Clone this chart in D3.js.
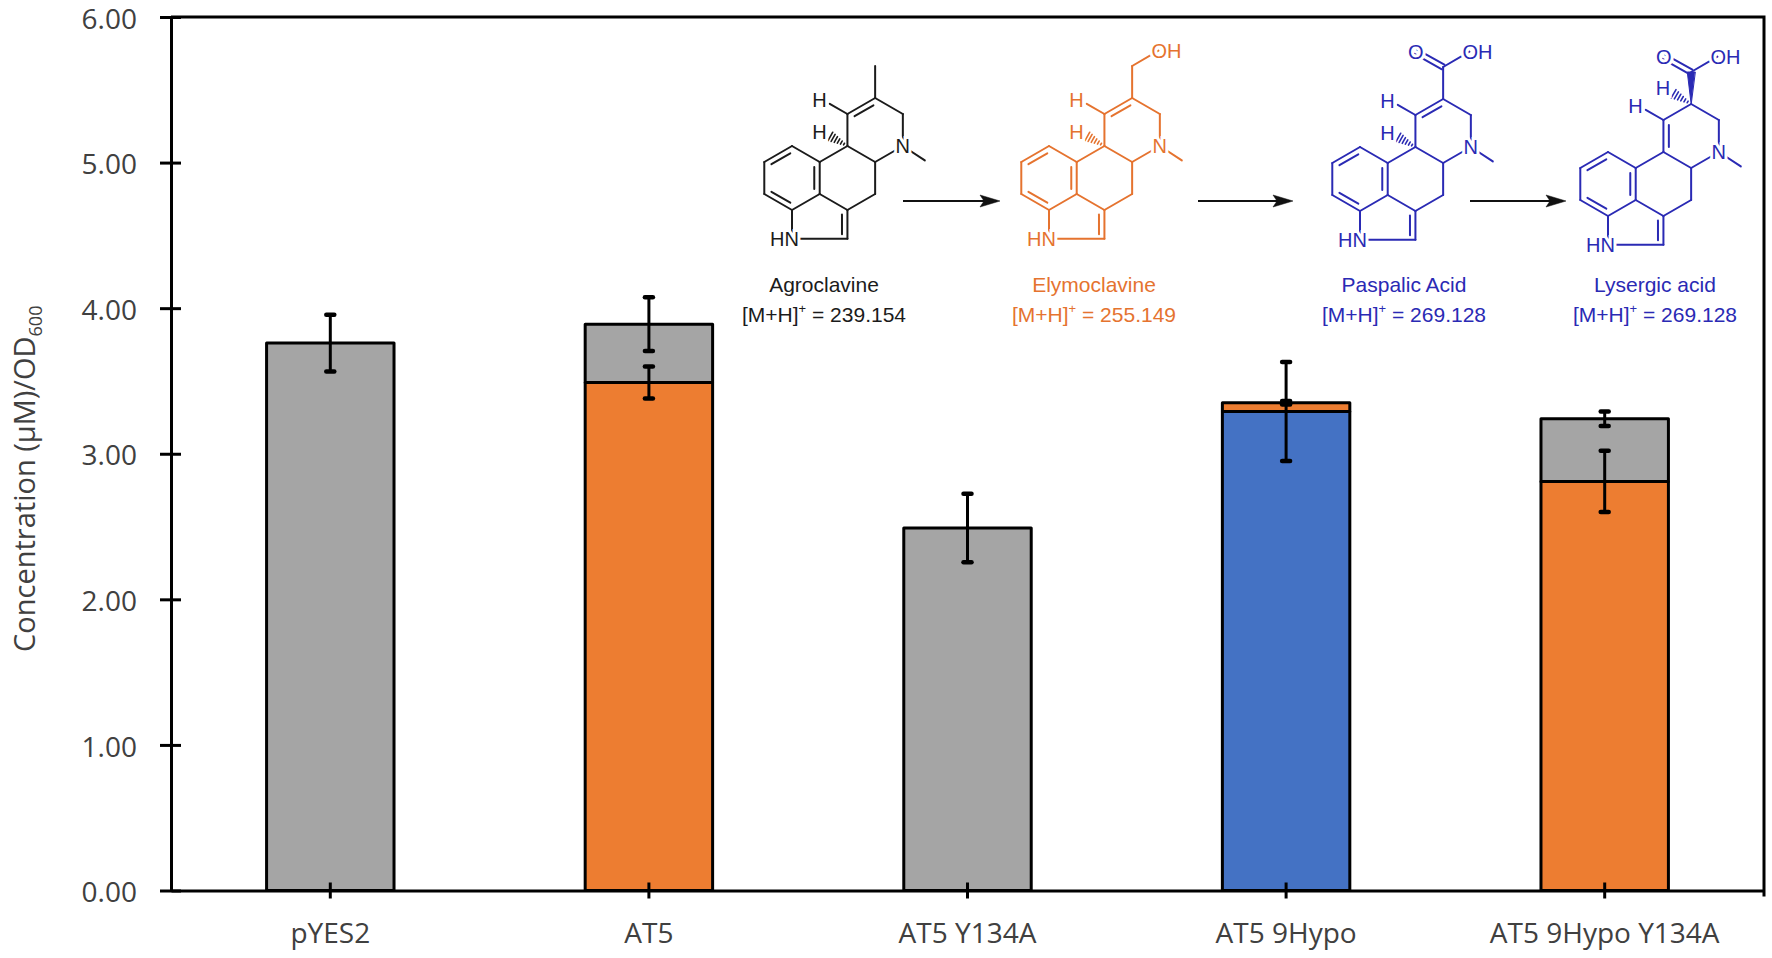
<!DOCTYPE html>
<html>
<head>
<meta charset="utf-8">
<script src="https://cdn.jsdelivr.net/npm/d3@7"></script>
<style>
  body { margin: 0; background: #fff; }
  svg { display: block; }
</style>
</head>
<body>
<svg id="chart" width="1772" height="958"></svg>
<script>
// chart data
const categories = ["pYES2", "AT5", "AT5 Y134A", "AT5 9Hypo", "AT5 9Hypo Y134A"];
const paspalic = [0, 0, 0, 3.29, 0];
const elymoclavine = [0, 3.49, 0, 0.06, 2.81];
const agroclavine = [3.76, 0.40, 2.49, 0, 0.43];
const paspalicErr = [0, 0, 0, 0.34, 0];
const elymoclavineErr = [0, 0.11, 0, 0.012, 0.21];
const agroclavineErr = [0.195, 0.185, 0.235, 0, 0.05];
const yTicks = [0, 1, 2, 3, 4, 5, 6];

// pathway inset
const compounds = ["Agroclavine", "Elymoclavine", "Paspalic Acid", "Lysergic acid"];
const masses = ["239.154", "255.149", "269.128", "269.128"];

const W = 1772, H = 958;
const margin = {top: 17, right: 8, bottom: 67.5, left: 171};
const svg = d3.select("#chart");

const x = d3.scaleBand()
  .domain(categories)
  .range([margin.left, W - margin.right])
  .paddingInner(0.6)
  .paddingOuter(0.3);
const y = d3.scaleLinear().domain([0, 6]).range([H - margin.bottom, margin.top]);

const keys = ["paspalic", "elymoclavine", "agroclavine"];
const colors = {paspalic: "#4472C4", elymoclavine: "#ED7D31", agroclavine: "#A5A5A5"};
const errs = {paspalic: paspalicErr, elymoclavine: elymoclavineErr, agroclavine: agroclavineErr};
const table = categories.map((c, i) => ({
  category: c, idx: i,
  paspalic: paspalic[i], elymoclavine: elymoclavine[i], agroclavine: agroclavine[i]
}));
const series = d3.stack().keys(keys)(table);

// bars
svg.append("g").selectAll("g").data(series).join("g")
  .attr("fill", d => colors[d.key])
  .selectAll("rect").data(d => d.filter(s => s[1] - s[0] > 0)).join("rect")
  .attr("x", d => x(d.data.category))
  .attr("width", x.bandwidth())
  .attr("y", d => y(d[1]))
  .attr("height", d => y(d[0]) - y(d[1]))
  .attr("stroke", "#000")
  .attr("stroke-width", 3)
  .attr("stroke-linejoin", "round");

// error bars at top of each segment
const errData = [];
series.forEach(s => s.forEach(d => {
  const e = errs[s.key][d.data.idx];
  if (d[1] - d[0] > 0 && e > 0) errData.push({cat: d.data.category, v: d[1], e});
}));
const eg = svg.append("g").attr("stroke", "#000");
const cx = d => x(d.cat) + x.bandwidth() / 2;
eg.selectAll(".stem").data(errData).join("line").attr("class", "stem")
  .attr("x1", cx).attr("x2", cx)
  .attr("y1", d => y(d.v + d.e)).attr("y2", d => y(d.v - d.e))
  .attr("stroke-width", 3);
["+", "-"].forEach(sgn => {
  eg.selectAll(".cap" + (sgn === "+" ? "u" : "d")).data(errData).join("line")
    .attr("x1", d => cx(d) - 4).attr("x2", d => cx(d) + 4)
    .attr("y1", d => y(sgn === "+" ? d.v + d.e : d.v - d.e))
    .attr("y2", d => y(sgn === "+" ? d.v + d.e : d.v - d.e))
    .attr("stroke-width", 4.5).attr("stroke-linecap", "round");
});

// axes
const gy = svg.append("g").attr("transform", `translate(${margin.left},0)`)
  .call(d3.axisLeft(y).tickValues(yTicks).tickFormat(d3.format(".2f"))
    .tickSize(10).tickSizeOuter(0).tickPadding(24));
gy.select(".domain").attr("stroke", "#000").attr("stroke-width", 3);
gy.selectAll(".tick line").attr("x1", -11).attr("x2", 10).attr("stroke", "#000").attr("stroke-width", 3);
gy.selectAll("text").attr("font-family", "Open Sans").attr("font-size", 28).attr("fill", "#404040")
  .attr("dy", "0.4em");

const gx = svg.append("g").attr("transform", `translate(0,${H - margin.bottom})`)
  .call(d3.axisBottom(x).tickSize(8).tickSizeOuter(0).tickPadding(25));
gx.select(".domain").attr("stroke", "#000").attr("stroke-width", 3);
gx.selectAll(".tick line").attr("y1", -8).attr("y2", 8).attr("stroke", "#000").attr("stroke-width", 3);
gx.selectAll("text").attr("font-family", "Open Sans").attr("font-size", 28).attr("fill", "#404040");

// frame top / right
svg.append("path")
  .attr("d", `M${margin.left},${margin.top}H${W - margin.right}V${H - margin.bottom + 6}`)
  .attr("fill", "none").attr("stroke", "#000").attr("stroke-width", 3);

// y title
const yt = svg.append("text")
  .attr("transform", `translate(35,${(margin.top + H - margin.bottom) / 2 + 25}) rotate(-90)`)
  .attr("text-anchor", "middle")
  .attr("font-family", "Open Sans").attr("font-size", 29).attr("fill", "#404040");
yt.append("tspan").text("Concentration (μM)/OD");
yt.append("tspan").attr("font-size", 18).attr("dy", 7).text("600");

// ---- reaction scheme ----
const L = 32;
const atoms = {
  A1: [0, -1], A2: [0.866, -0.5], A3: [0.866, 0.5], A4: [0, 1], A5: [-0.866, 0.5], A6: [-0.866, -0.5],
  C3: [1.732, 1], C2: [1.732, 1.9], N1: [0, 1.9],
  C4: [2.598, 0.5], C5: [2.598, -0.5], C10: [1.732, -1], C9: [1.732, -2], C8: [2.598, -2.5],
  C7: [3.464, -2], N6: [3.464, -1], Me6: [4.15, -0.55],
  H9e: [1.18, -2.32], H10e: [1.2, -1.3], H8e: [2.05, -2.82],
  C17: [2.598, -3.5], O1: [1.74, -3.98], O2: [3.42, -3.98]
};
const centers = {ringA: [0, 0], pyr: [0.866, 1.26], ringD: [2.598, -1.5]};
const baseSingles = [["A1","A2"],["A3","A4"],["A5","A6"],["A4","N1"],["N1","C2"],["C3","A3"],
  ["C3","C4"],["C4","C5"],["C5","C10"],["C10","A2"],["C8","C7"],["C7","N6"],["N6","C5"],
  ["N6","Me6"],["C9","H9e"],["C8","C17"]];
const baseDoubles = [["A2","A3","ringA"],["A4","A5","ringA"],["A6","A1","ringA"],["C2","C3","pyr"]];

const layout = [
  {cx: 792, cy: 178, lx: 824, color: "#1b1b1b", kind: "agro"},
  {cx: 1049, cy: 178, lx: 1094, color: "#E5732F", kind: "ely"},
  {cx: 1360, cy: 179, lx: 1404, color: "#2A2AB4", kind: "pasp"},
  {cx: 1608, cy: 184, lx: 1655, color: "#2A2AB4", kind: "lys"}
];

function drawMolecule(m, i) {
  const g = svg.append("g").attr("stroke", m.color).attr("fill", m.color)
    .attr("stroke-width", 2).attr("stroke-linecap", "round");
  const P = k => { const p = Array.isArray(k) ? k : atoms[k]; return [m.cx + p[0] * L, m.cy + p[1] * L]; };
  const line = (a, b, w) => g.append("line").attr("x1", a[0]).attr("y1", a[1]).attr("x2", b[0]).attr("y2", b[1])
    .attr("stroke-width", w || 2);
  const singles = baseSingles.slice();
  const doubles = baseDoubles.slice();
  if (m.kind === "lys") {
    singles.push(["C9", "C8"]);
    doubles.push(["C10", "C9", "ringD"]);
  } else {
    singles.push(["C10", "C9"]);
    doubles.push(["C9", "C8", "ringD"]);
  }
  if (m.kind !== "agro") singles.push(["C17", "O2"]);
  singles.forEach(([a, b]) => {
    if (m.kind === "lys" && a === "C8" && b === "C17") return;
    line(P(a), P(b));
  });
  doubles.forEach(([a, b, c]) => {
    const pa = P(a), pb = P(b), pc = P(centers[c]);
    line(pa, pb);
    const mx = (pa[0] + pb[0]) / 2, my = (pa[1] + pb[1]) / 2;
    const dx = pb[0] - pa[0], dy = pb[1] - pa[1], len = Math.hypot(dx, dy);
    let nx = -dy / len, ny = dx / len;
    if (nx * (pc[0] - mx) + ny * (pc[1] - my) < 0) { nx = -nx; ny = -ny; }
    const off = 0.17 * L, sh = 0.16;
    line([pa[0] + dx * sh + nx * off, pa[1] + dy * sh + ny * off],
         [pb[0] - dx * sh + nx * off, pb[1] - dy * sh + ny * off]);
  });
  // C=O
  if (m.kind === "pasp" || m.kind === "lys") {
    const pa = P("C17"), pb = P("O1");
    const dx = pb[0] - pa[0], dy = pb[1] - pa[1], len = Math.hypot(dx, dy);
    const nx = -dy / len * 2.6, ny = dx / len * 2.6;
    line([pa[0] + nx, pa[1] + ny], [pb[0] + nx, pb[1] + ny]);
    line([pa[0] - nx, pa[1] - ny], [pb[0] - nx, pb[1] - ny]);
  }
  // hashed wedge
  const hash = (a, b) => {
    const pa = P(a), pb = P(b);
    const dx = pb[0] - pa[0], dy = pb[1] - pa[1], len = Math.hypot(dx, dy);
    const nx = -dy / len, ny = dx / len;
    for (let t = 0.2; t <= 1.001; t += 0.16) {
      const w = t * 0.15 * L;
      const px = pa[0] + dx * t, py = pa[1] + dy * t;
      line([px - nx * w, py - ny * w], [px + nx * w, py + ny * w], 1.6);
    }
  };
  if (m.kind === "lys") {
    hash("C8", "H8e");
    const pa = P("C8"), pb = P("C17");
    const w = 0.12 * L;
    g.append("polygon").attr("stroke-width", 1)
      .attr("points", [[pa[0], pa[1]], [pb[0] - w, pb[1]], [pb[0] + w, pb[1]]].map(p => p.join(",")).join(" "));
  } else {
    hash("C10", "H10e");
  }
  // atom labels
  const lab = (txt, p, anchor, dxp) => svg.append("text")
    .attr("x", p[0] + (dxp || 0)).attr("y", p[1]).attr("dy", "0.36em")
    .attr("text-anchor", anchor || "middle")
    .attr("font-family", "Liberation Sans, Arial").attr("font-size", 20)
    .attr("fill", m.color).attr("stroke", "#fff").attr("stroke-width", 6)
    .attr("paint-order", "stroke").text(txt);
  lab("N", P("N6"));
  lab("HN", P("N1"), "end", 7);
  lab("H", P([0.86, -2.45]));
  if (m.kind === "lys") lab("H", P([1.72, -3.0]));
  else lab("H", P([0.86, -1.45]));
  if (m.kind !== "agro") lab("OH", P("O2"), "start", -7);
  if (m.kind === "pasp" || m.kind === "lys") lab("O", P("O1"));

  // names and masses
  svg.append("text").attr("x", m.lx).attr("y", 291.7).attr("text-anchor", "middle")
    .attr("font-family", "Liberation Sans, Arial").attr("font-size", 21).attr("fill", m.color)
    .text(compounds[i]);
  const mt = svg.append("text").attr("x", m.lx).attr("y", 321.7).attr("text-anchor", "middle")
    .attr("font-family", "Liberation Sans, Arial").attr("font-size", 21).attr("fill", m.color);
  mt.append("tspan").text("[M+H]");
  mt.append("tspan").attr("font-size", 13).attr("dy", -9).text("+");
  mt.append("tspan").attr("dy", 9).text(" = " + masses[i]);
}
layout.forEach(drawMolecule);

// arrows between structures
const arrows = [[903, 1000], [1198, 1293], [1470, 1566]];
const ag = svg.append("g").attr("fill", "#111").attr("stroke", "#111");
arrows.forEach(([a, b]) => {
  const yy = 201;
  ag.append("line").attr("x1", a).attr("x2", b - 12).attr("y1", yy).attr("y2", yy).attr("stroke-width", 2);
  ag.append("polygon").attr("stroke-width", 0.5)
    .attr("points", `${b},${yy} ${b - 20},${yy - 6} ${b - 16},${yy} ${b - 20},${yy + 6}`);
});
</script>
</body>
</html>
